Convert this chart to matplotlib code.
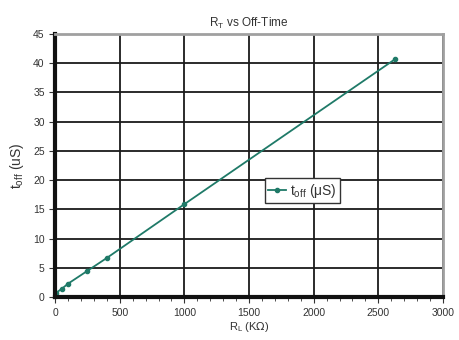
import matplotlib.pyplot as plt
from matplotlib.ticker import MultipleLocator

plt.rcParams['font.family'] = ['Liberation Sans', 'DejaVu Sans']

# R_L (kOhm) vs t_off (uS)
r_l = [5, 50, 100, 250, 400, 1000, 2630]
t_off = [0.7, 1.4, 2.3, 4.5, 6.7, 15.9, 40.7]

x_ticks = [0, 500, 1000, 1500, 2000, 2500, 3000]
y_ticks = [0, 5, 10, 15, 20, 25, 30, 35, 40, 45]

fig = plt.figure(figsize=(4.59, 3.40), dpi=100)
ax = fig.add_axes([0.120, 0.126, 0.845, 0.774])

ax.plot(r_l, t_off, color='#1f7a68', lw=1.3, marker='o', ms=3,
        label=r'$\mathregular{t_{off}}$ ($\mathregular{\mu}$S)')

ax.set_xlim(0, 3000)
ax.set_ylim(0, 45)
ax.set_xticks(x_ticks)
ax.set_yticks(y_ticks)
ax.xaxis.set_minor_locator(MultipleLocator(100))
ax.grid(True, which='major', color='#1a1a1a', lw=1.3)
ax.set_axisbelow(True)

for s in ['top', 'right']:
    ax.spines[s].set_color('#a0a0a0')
    ax.spines[s].set_linewidth(2)
for s in ['left', 'bottom']:
    ax.spines[s].set_color('#111111')
    ax.spines[s].set_linewidth(3)

ax.tick_params(axis='both', which='major', labelsize=7.5, length=4,
               color='#333333', labelcolor='#333333')
ax.tick_params(axis='x', which='minor', length=3, color='#333333')

ax.set_title(r'R$_\mathregular{T}$ vs Off-Time', fontsize=8.5, pad=5, color='#333333')
ax.set_xlabel(r'R$_\mathregular{L}$ (K$\Omega$)', fontsize=8, labelpad=2, color='#333333')
ax.set_ylabel(r't$_\mathregular{off}$ (uS)', fontsize=10, labelpad=5, color='#333333')

leg = ax.legend(loc='center left', bbox_to_anchor=(0.54, 0.405), fontsize=10,
                frameon=True, fancybox=False, handlelength=1.3,
                borderpad=0.25, handletextpad=0.3, borderaxespad=0)
leg.get_frame().set_edgecolor('#333333')
leg.get_frame().set_linewidth(1)
leg.get_frame().set_alpha(1)
for t in leg.get_texts():
    t.set_color('#333333')

plt.savefig('out.png', dpi=100)
